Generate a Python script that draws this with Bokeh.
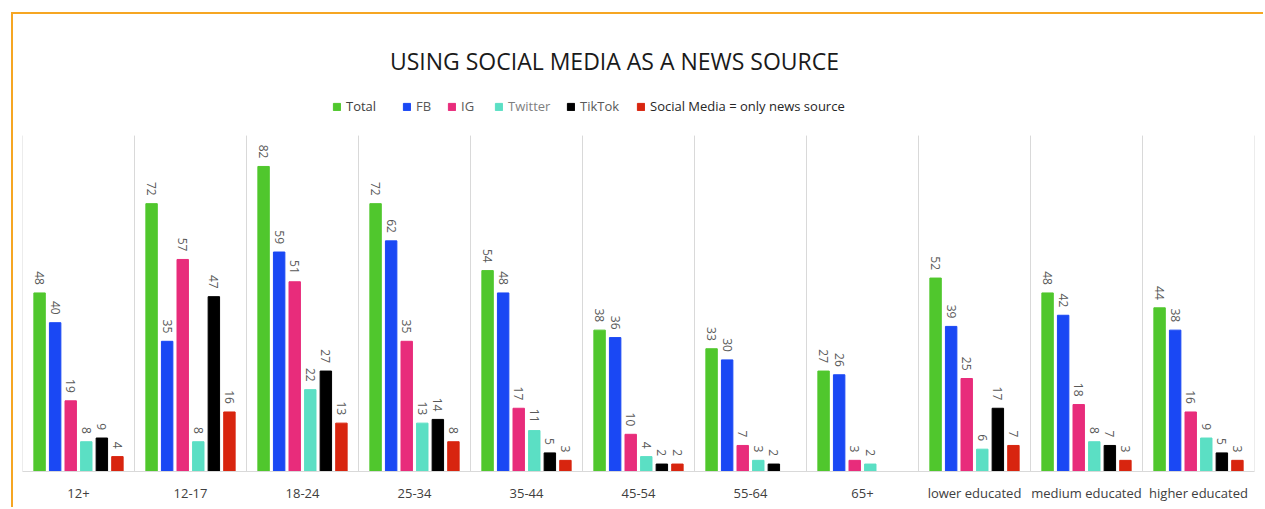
from bokeh.plotting import figure
from bokeh.models import ColumnDataSource, Range1d, FactorRange, Legend, LegendItem, Label
from bokeh.transform import dodge
from bokeh.core.properties import value
from bokeh.embed import file_html
from bokeh.resources import INLINE

categories = ["12+", "12-17", "18-24", "25-34", "35-44", "45-54", "55-64", "65+",
              "lower educated", "medium educated", "higher educated"]
series_names = ["Total", "FB", "IG", "Twitter", "TikTok", "Social Media = only news source"]
total = [48, 72, 82, 72, 54, 38, 33, 27, 52, 48, 44]
fb = [40, 35, 59, 62, 48, 36, 30, 26, 39, 42, 38]
ig = [19, 57, 51, 35, 17, 10, 7, 3, 25, 18, 16]
twitter = [8, 8, 22, 13, 11, 4, 3, 2, 6, 8, 9]
tiktok = [9, 47, 27, 14, 5, 2, 2, None, 17, 7, 5]
only_source = [4, 16, 13, 8, 3, 2, None, None, 7, 3, 3]
series_values = [total, fb, ig, twitter, tiktok, only_source]
colors = ["#50C72D", "#1A48F4", "#E82C7B", "#5BDFC4", "#000000", "#D8250F"]

PX_PER_UNIT = 3.72
FRAME_H = 457

p = figure(x_range=FactorRange(*categories), y_range=Range1d(0, FRAME_H / PX_PER_UNIT),
           width=1252, height=495, output_backend="svg", toolbar_location=None,
           min_border_left=9, min_border_right=11, min_border_top=0, min_border_bottom=38)
p.styles = {"margin-left": "11px", "margin-top": "12px",
            "border-left": "2px solid #F6A623", "border-top": "2px solid #F6A623"}
p.outline_line_color = None
p.background_fill_color = "white"
p.border_fill_color = "white"
p.xgrid.visible = False
p.ygrid.visible = False
p.yaxis.visible = False
p.xaxis.axis_line_color = "#D9D9D9"
p.xaxis.axis_line_width = 1
p.xaxis.major_tick_line_color = None
p.xaxis.minor_tick_line_color = None
p.xaxis.major_label_text_font = "Open Sans"
p.xaxis.major_label_text_font_size = "13px"
p.xaxis.major_label_text_color = "#404040"
p.xaxis.major_label_standoff = 6

# separators between groups
sep_src = ColumnDataSource(dict(cat=categories, top=[90.3] * len(categories), bot=[0] * len(categories)))
p.segment(x0=dodge("cat", -0.5, range=p.x_range), x1=dodge("cat", -0.5, range=p.x_range),
          y0="bot", y1="top", source=sep_src, line_color="#D9D9D9", line_width=1)
last_src = ColumnDataSource(dict(cat=[categories[-1]], top=[90.3], bot=[0]))
p.segment(x0=dodge("cat", 0.5, range=p.x_range), x1=dodge("cat", 0.5, range=p.x_range),
          y0="bot", y1="top", source=last_src, line_color="#D9D9D9", line_width=1)

step = 0.139
offsets = [(i - 2.5) * step for i in range(6)]
renderers = []
for name, vals, col, off in zip(series_names, series_values, colors, offsets):
    cats = [c for c, v in zip(categories, vals) if v is not None]
    vs = [v for v in vals if v is not None]
    src = ColumnDataSource(dict(cat=cats, v=vs, lab=[str(v) for v in vs],
                                ly=[v + 8 / PX_PER_UNIT for v in vs]))
    r = p.vbar(x=dodge("cat", off, range=p.x_range), top="v", width=0.102, source=src,
               fill_color=col, line_color=col)
    renderers.append(r)
    p.text(x=dodge("cat", off, range=p.x_range), y="ly", text="lab", source=src,
           angle=-1.5708, text_align="right", text_baseline="middle",
           text_font=value("Open Sans"), text_font_size="12px", text_color="#595959")

# title
p.add_layout(Label(x=592, y=411, x_units="screen", y_units="screen",
                   text="USING SOCIAL MEDIA AS A NEWS SOURCE", text_align="center",
                   text_baseline="middle", text_font="Open Sans", text_font_size="23px",
                   text_color="#1a1a1a"))

# legend, one box per entry to follow the spacing of the original
legend_x = [310, 380, 425, 472, 544, 614]
label_colors = ["#404040", "#595959", "#595959", "#7f7f7f", "#595959", "#262626"]
for name, r, lx, lc in zip(series_names, renderers, legend_x, label_colors):
    lg = Legend(items=[LegendItem(label=name, renderers=[r])], location=(lx, 356),
                orientation="horizontal", padding=0, margin=0, spacing=0,
                border_line_alpha=0, background_fill_alpha=0,
                glyph_width=9, glyph_height=9, label_height=9, label_standoff=5,
                label_text_font="Open Sans", label_text_font_size="13px",
                label_text_color=lc, label_text_baseline="middle")
    p.add_layout(lg, "center")

open("out.html", "w").write(file_html(p, INLINE))
